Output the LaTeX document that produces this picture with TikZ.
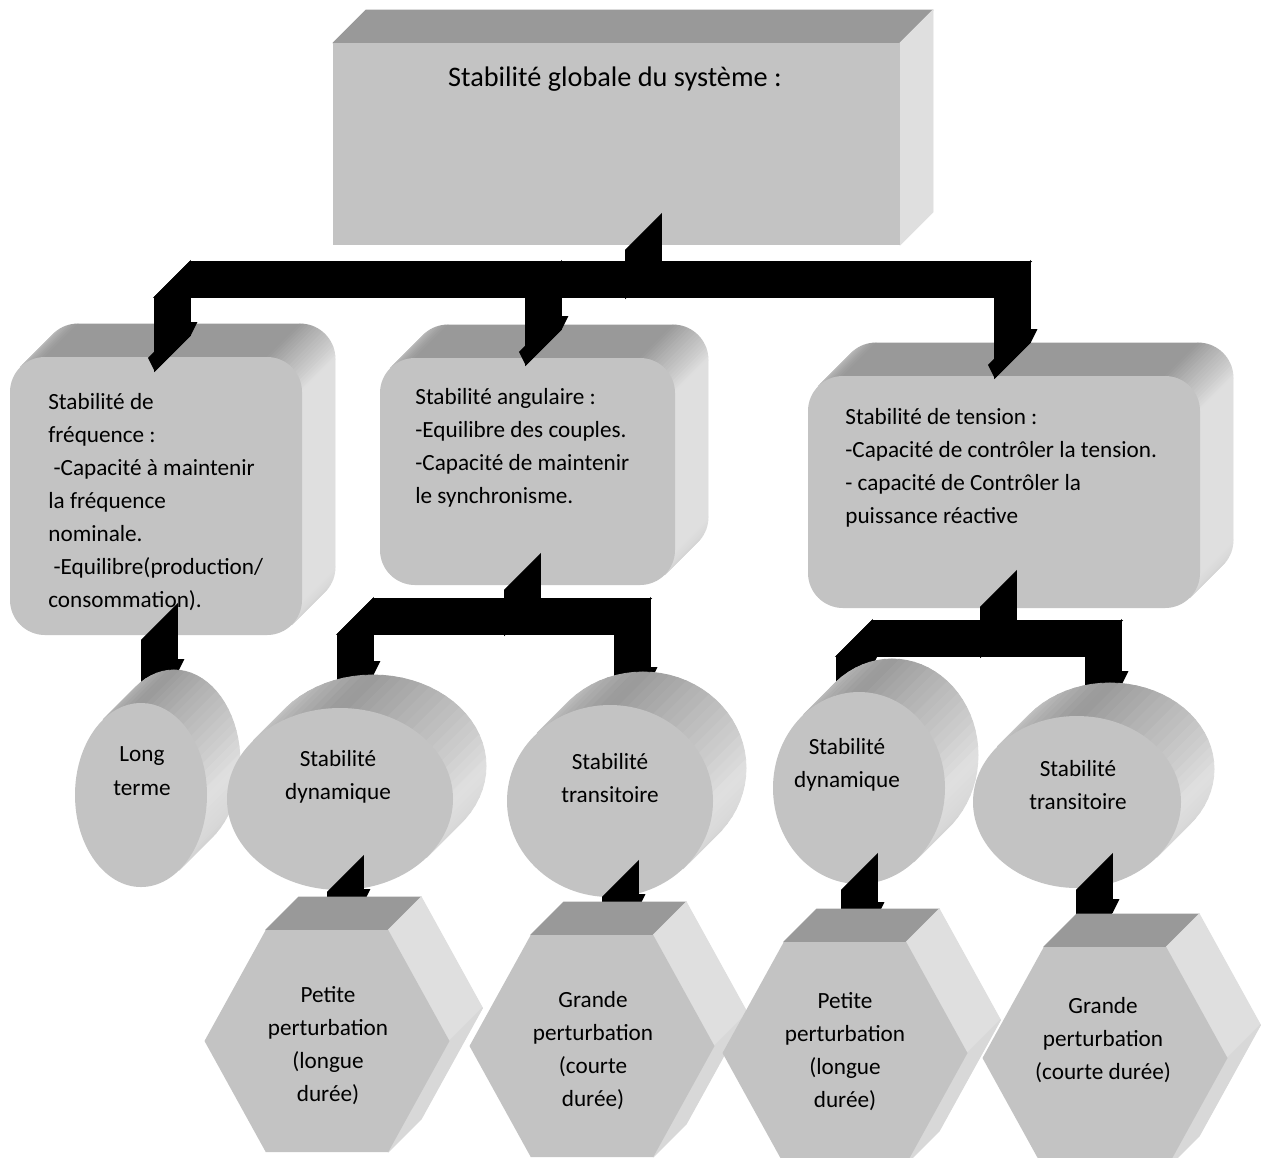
\documentclass[tikz,border=0pt]{standalone}
\usepackage{fontspec}
\setmainfont{Carlito}
\usetikzlibrary{calc}
\definecolor{dk}{HTML}{999999}
\definecolor{lt}{HTML}{DFDFDF}
\definecolor{fr}{HTML}{C3C3C3}

\newcommand{\pctof}[1]{\pgfmathtruncatemacro\pp{(#1>=90)?(100-(#1-90)*60/45):((#1>=0)?(#1*100/90):(-(#1)*15/45))}}
\newcommand{\quadc}[5]{\path[fill=dk!#5!lt,draw=dk!#5!lt,line width=0.5pt,line join=round] ({#1},{#2}) -- ({#3},{#4}) -- ({#3+33},{#4-33}) -- ({#1+33},{#2-33}) -- cycle;}
\newcommand{\arcsweep}[5]{\foreach \a in {#5}{\pgfmathsetmacro\b{\a-5}\pgfmathsetmacro\m{\a-2.5}\pctof{\m}\quadc{#1+#3*cos(\a)}{#2-#4*sin(\a)}{#1+#3*cos(\b)}{#2-#4*sin(\b)}{\pp}}}
\newcommand{\rbox}[4]{%
  \arcsweep{#1+35}{#2+35}{35}{35}{135,130,...,95}
  \quadc{#1+35}{#2}{#3-35}{#2}{100}
  \arcsweep{#3-35}{#2+35}{35}{35}{90,85,...,5}
  \quadc{#3}{#2+35}{#3}{#4-35}{0}
  \arcsweep{#3-35}{#4-35}{35}{35}{0,-5,...,-40}
  \fill[fr,rounded corners=0.7cm] (#1,#2) rectangle (#3,#4);}
\newcommand{\cyl}[5]{\arcsweep{#1}{#2}{#3}{#4}{#5}\fill[fr] (#1,#2) ellipse [x radius=#3, y radius=#4];}
\newcommand{\hexa}[4]{%
  \quadc{#1-#3/4}{#2-#4/2}{#1+#3/4}{#2-#4/2}{100}
  \quadc{#1+#3/4}{#2-#4/2}{#1+#3/2}{#2}{0}
  \quadc{#1+#3/2}{#2}{#1+#3/4}{#2+#4/2}{10}
  \fill[fr] ({#1-#3/2},{#2}) -- ({#1-#3/4},{#2-#4/2}) -- ({#1+#3/4},{#2-#4/2}) -- ({#1+#3/2},{#2}) -- ({#1+#3/4},{#2+#4/2}) -- ({#1-#3/4},{#2+#4/2}) -- cycle;}
\tikzset{conn/.style={fill=black,draw=black,line width=1pt,line join=miter}}
\newcommand{\bseg}[2]{\path[conn] (#1) -- (#2) -- ($(#2)+(35,-35)$) -- ($(#1)+(35,-35)$) -- cycle;}
\newcommand{\bhead}[1]{\path[conn] ($(#1)+(-6,-12)$) -- (#1) -- ($(#1)+(35,-35)$) -- ($(#1)+(41,-47)$) -- ($(#1)+(29,-47)$) -- cycle;}
\tikzset{
  body/.style={font=\fontsize{13.2pt}{18.8pt}\selectfont,inner sep=0pt,text=black,
    execute at begin node=\strut,execute at end node=\strut},
  lbody/.style={body,align=left,anchor=west},
  cbody/.style={body,align=center,anchor=center},
  title/.style={font=\fontsize{16.1pt}{19pt}\selectfont,inner sep=0pt,anchor=center}
}

\begin{document}
\begin{tikzpicture}[x=0.02cm,y=-0.02cm]
\useasboundingbox (0,0) rectangle (1270,1157);
\fill[white] (0,0) rectangle (1270,1157);
% top box
\quadc{333}{43}{900}{43}{100}
\quadc{900}{43}{900}{245}{0}
\fill[fr] (333,43) rectangle (900,245);
% second level boxes
\rbox{10}{357}{302}{635}
\rbox{380}{358}{675}{585}
\rbox{808}{376}{1200}{608}
% connector 1
\coordinate (c1s) at (626,250); \coordinate (c1j) at (626,297);
\coordinate (c1l) at (155,297); \coordinate (c1lt) at (155,370);
\coordinate (c1m) at (526,297); \coordinate (c1mt) at (526,364);
\coordinate (c1r) at (995,297); \coordinate (c1rt) at (995,377);
\bseg{c1s}{c1j}\bseg{c1l}{c1r}\bseg{c1l}{c1lt}\bseg{c1m}{c1mt}\bseg{c1r}{c1rt}
\bhead{c1lt}\bhead{c1mt}\bhead{c1rt}
% connector 2
\coordinate (c2s) at (505,590); \coordinate (c2j) at (505,634);
\coordinate (c2l) at (338,634); \coordinate (c2lt) at (338,709);
\coordinate (c2r) at (615,634); \coordinate (c2rt) at (615,715);
\bseg{c2s}{c2j}\bseg{c2l}{c2r}\bseg{c2l}{c2lt}\bseg{c2r}{c2rt}
\bhead{c2lt}\bhead{c2rt}
% connector 3
\coordinate (c3s) at (981,607); \coordinate (c3j) at (981,656);
\coordinate (c3l) at (837,656); \coordinate (c3lt) at (837,700);
\coordinate (c3r) at (1086,656); \coordinate (c3rt) at (1086,719);
\bseg{c3s}{c3j}\bseg{c3l}{c3r}\bseg{c3l}{c3lt}\bseg{c3r}{c3rt}
\bhead{c3lt}\bhead{c3rt}
% connector 4
\coordinate (c4s) at (142,640); \coordinate (c4t) at (142,707);
\bseg{c4s}{c4t}\bhead{c4t}
% cylinders
\cyl{141}{795}{66}{92}{125,120,...,-50}
\cyl{340}{799}{113}{91}{140,135,...,-35}
\cyl{610}{801}{103}{96}{135,130,...,-40}
\cyl{859}{788}{86}{96}{130,125,...,-45}
\cyl{1077}{802}{104}{86}{140,135,...,-35}
% connectors 5-8
\coordinate (c5s) at (328,892); \coordinate (c5t) at (328,937);
\coordinate (c6s) at (603,897); \coordinate (c6t) at (603,942);
\coordinate (c7s) at (842,890); \coordinate (c7t) at (842,950);
\coordinate (c8s) at (1077,890); \coordinate (c8t) at (1077,947);
\bseg{c5s}{c5t}\bhead{c5t}
\bseg{c6s}{c6t}\bhead{c6t}
\bseg{c7s}{c7t}\bhead{c7t}
\bseg{c8s}{c8t}\bhead{c8t}
% hexagons
\hexa{327}{1041}{245}{222}
\hexa{592}{1046}{245}{222}
\hexa{845}{1053}{245}{222}
\hexa{1105}{1058}{245}{222}
% texts
\node[title] (ttop) at (615,79) {Stabilité globale du système :};
\node[lbody] (tb1) at (48,505) {Stabilité de\\fréquence :\\\ -Capacité à maintenir\\la fréquence\\nominale.\\\ -Equilibre(production/\\consommation).};
\node[lbody] (tb2) at (415,451) {Stabilité angulaire :\\-Equilibre des couples.\\-Capacité de maintenir\\le synchronisme.};
\node[lbody] (tb3) at (845,471) {Stabilité de tension :\\-Capacité de contrôler la tension.\\- capacité de Contrôler la\\puissance réactive};
\node[cbody] (te1) at (142,776) {Long\\terme};
\node[cbody] (te2) at (338,780) {Stabilité\\dynamique};
\node[cbody] (te3) at (610,783) {Stabilité\\transitoire};
\node[cbody] (te4) at (847,768) {Stabilité\\dynamique};
\node[cbody] (te5) at (1078,790) {Stabilité\\transitoire};
\node[cbody] (th1) at (328,1049) {Petite\\perturbation\\(longue\\durée)};
\node[cbody] (th2) at (593,1054) {Grande\\perturbation\\(courte\\durée)};
\node[cbody] (th3) at (845,1055) {Petite\\perturbation\\(longue\\durée)};
\node[cbody] (th4) at (1103,1043) {Grande\\perturbation\\(courte durée)};
\end{tikzpicture}
\end{document}
